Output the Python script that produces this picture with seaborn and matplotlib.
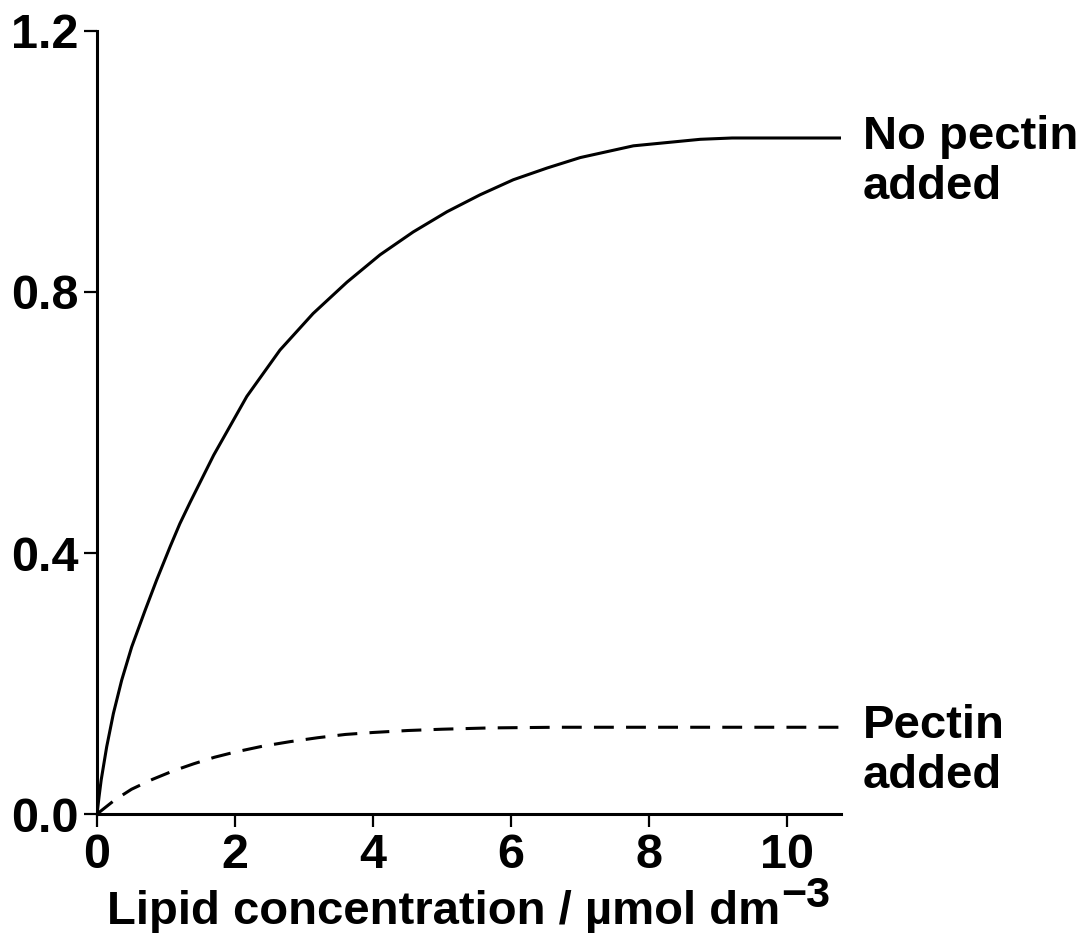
import pandas as pd
import matplotlib
matplotlib.use('Agg')
import matplotlib.pyplot as plt
import seaborn as sns

# values (lipid conc in umol dm-3)
no_pectin_x = [0, 0.03, 0.06, 0.14, 0.237, 0.357, 0.502, 0.696, 0.865, 1.06, 1.2, 1.35,
               1.69, 2.17, 2.65, 3.13, 3.62, 4.10, 4.58, 5.07, 5.55, 6.03, 6.52, 7.0,
               7.77, 8.74, 9.2, 10.78]
no_pectin_y = [0, 0.027, 0.052, 0.103, 0.154, 0.205, 0.256, 0.312, 0.359, 0.41, 0.445, 0.478,
               0.55, 0.640, 0.711, 0.767, 0.815, 0.857, 0.892, 0.923, 0.949, 0.972, 0.990, 1.006,
               1.024, 1.034, 1.036, 1.036]

pectin_x = [0, 0.25, 0.5, 0.8, 1.1, 1.4, 1.7, 2.0, 2.4, 2.8, 3.2, 3.6, 4.0, 4.5, 5.0,
            5.7, 6.67, 10.78]
pectin_y = [0, 0.021, 0.038, 0.053, 0.066, 0.077, 0.087, 0.095, 0.104, 0.111, 0.117, 0.122,
            0.125, 0.128, 0.130, 0.132, 0.133, 0.133]

x_ticks = [0, 2, 4, 6, 8, 10]
y_ticks = [0.0, 0.4, 0.8, 1.2]
y_tick_labels = ['0.0', '0.4', '0.8', '1.2']

sns.set_style('ticks')
plt.rcParams['font.family'] = ['Liberation Sans', 'DejaVu Sans']
plt.rcParams['font.weight'] = 'bold'
for key in ['text.color', 'axes.labelcolor', 'xtick.color', 'ytick.color', 'axes.edgecolor']:
    plt.rcParams[key] = 'black'

no_pectin = pd.DataFrame({'x': no_pectin_x, 'y': no_pectin_y})
pectin = pd.DataFrame({'x': pectin_x, 'y': pectin_y})

fig = plt.figure(figsize=(10.84, 9.33), dpi=100)
ax = fig.add_axes([0.0895, 0.1275, 0.6865, 0.8393])

sns.lineplot(data=no_pectin, x='x', y='y', color='black', linewidth=2.2, ax=ax)
sns.lineplot(data=pectin, x='x', y='y', color='black', linewidth=2.2,
             linestyle=(0, (6.5, 4)), ax=ax)

ax.set_xlim(0, 10.78)
ax.set_ylim(0, 1.2)
ax.set_xticks(x_ticks)
ax.set_yticks(y_ticks)
ax.set_yticklabels(y_tick_labels)
sns.despine(ax=ax)
for s in ['left', 'bottom']:
    ax.spines[s].set_linewidth(2.2)
ax.tick_params(axis='both', labelsize=35, length=9.5, width=1.6, pad=4)
for lab in ax.get_xticklabels() + ax.get_yticklabels():
    lab.set_fontweight('bold')

# x label with a full-size raised "-3"
ax.set_xlabel('Lipid concentration / µmol dm', fontsize=34, fontweight='bold')
ax.xaxis.set_label_coords(0.466, -0.097)
ax.set_ylabel('')
ax.text(0.919, -0.119, '\u22123', fontsize=31, fontweight='bold',
        ha='left', va='baseline', transform=ax.transAxes, clip_on=False)

ax.text(11.09, no_pectin_y[-1] + 0.035, 'No pectin\nadded', fontsize=34, fontweight='bold',
        va='top', ha='left', linespacing=1.17, clip_on=False)
ax.text(11.09, pectin_y[-1] + 0.035, 'Pectin\nadded', fontsize=34, fontweight='bold',
        va='top', ha='left', linespacing=1.17, clip_on=False)

plt.savefig('out.png', dpi=100)
